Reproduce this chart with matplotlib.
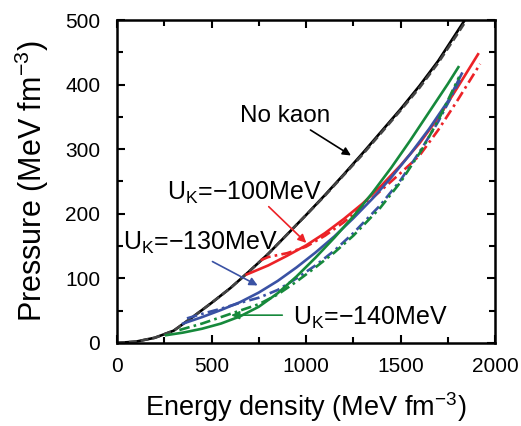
import matplotlib
matplotlib.use("Agg")
import matplotlib.pyplot as plt
from matplotlib.ticker import MultipleLocator

plt.rcParams['font.family'] = ['Liberation Sans', 'DejaVu Sans']
plt.rcParams['mathtext.fontset'] = 'custom'
plt.rcParams['mathtext.rm'] = 'Liberation Sans'

RED, BLUE, GREEN = '#ec2227', '#3a52a4', '#16893b'

# No kaon
e_nk = [0, 100, 200, 300, 400, 500, 600, 700, 800, 900, 1000, 1100, 1200, 1300, 1400, 1500, 1600, 1700, 1800, 1840]
p_nk = [0, 2, 8, 19, 40, 62, 85, 111, 138, 168, 198, 229, 261, 294, 328, 362, 398, 437, 482, 500]
p_nk2 = [0, 2, 8, 19, 40, 62, 85, 111, 138, 168, 198, 228, 260, 292, 326, 360, 395, 434, 478, 496]

# U_K = -100 MeV
e_100s = [686, 800, 900, 1000, 1100, 1200, 1300, 1400, 1500, 1600, 1700, 1800, 1910]
p_100s = [106, 120, 135, 151, 170, 192, 216, 244, 275, 309, 349, 395, 447]
e_100d = [760, 800, 900, 1000, 1100, 1200, 1300, 1400, 1500, 1600, 1700, 1800, 1921]
p_100d = [128, 133, 139, 149, 166, 187, 211, 237, 263, 290, 330, 375, 432]

# U_K = -130 MeV
e_130s = [350, 450, 550, 650, 750, 850, 950, 1050, 1150, 1250, 1350, 1450, 1550, 1650, 1750, 1824]
p_130s = [30, 40, 51, 63, 78, 96, 117, 140, 165, 193, 223, 256, 292, 331, 374, 417]
e_130d = [370, 450, 550, 650, 750, 850, 950, 1050, 1150, 1250, 1392, 1500, 1612, 1700, 1815]
p_130d = [38, 45, 53, 62, 70, 82, 100, 120, 143, 170, 213, 252, 301, 343, 407]

# U_K = -140 MeV
e_140s = [260, 350, 450, 550, 650, 750, 850, 950, 1050, 1150, 1250, 1350, 1450, 1550, 1650, 1750, 1806]
p_140s = [12, 16, 22, 30, 41, 56, 77, 103, 132, 163, 196, 232, 271, 313, 357, 401, 427]
e_140d = [330, 450, 550, 650, 750, 850, 950, 1050, 1150, 1250, 1392, 1500, 1612, 1700, 1810]
p_140d = [20, 30, 40, 50, 60, 75, 95, 117, 140, 166, 209, 249, 299, 345, 412]

fig = plt.figure(figsize=(5.21, 4.26), dpi=100)
ax = fig.add_axes([0.2246, 0.195, 0.7256, 0.758])

lw = 1.9
dd = (0, (4, 1.6, 1, 1.6))
ax.plot(e_nk, p_nk, color='black', lw=lw)
ax.plot(e_nk, p_nk2, color='#444444', lw=lw, ls=(0, (3, 1.5)))
ax.plot(e_100s, p_100s, color=RED, lw=lw)
ax.plot(e_100d, p_100d, color=RED, lw=lw, ls=dd)
ax.plot(e_130s, p_130s, color=BLUE, lw=lw)
ax.plot(e_130d, p_130d, color=BLUE, lw=lw, ls=dd)
ax.plot(e_140s, p_140s, color=GREEN, lw=lw)
ax.plot(e_140d, p_140d, color=GREEN, lw=lw, ls=dd)

ax.set_xlim(0, 2000)
ax.set_ylim(0, 500)
ax.xaxis.set_major_locator(MultipleLocator(500))
ax.xaxis.set_minor_locator(MultipleLocator(250))
ax.yaxis.set_major_locator(MultipleLocator(100))
ax.yaxis.set_minor_locator(MultipleLocator(50))
ax.tick_params(which='both', direction='in', top=True, right=True, width=1.5, labelsize=15)
ax.tick_params(axis='x', pad=10)
ax.tick_params(axis='y', pad=12)
ax.tick_params(which='major', length=6)
ax.tick_params(which='minor', length=4)
for s in ax.spines.values():
    s.set_linewidth(1.8)

ax.set_xlabel('Energy density (MeV fm$^\\mathregular{-3}$)', fontsize=19.5, labelpad=10)
ax.set_ylabel('Pressure (MeV fm$^\\mathregular{-3}$)', fontsize=22, labelpad=10)

akw = dict(arrowstyle='-|>', lw=1.2, mutation_scale=12)
ax.text(651, 342, 'No kaon', fontsize=17.5, ha='left', va='baseline')
ax.annotate('', xy=(1250, 288), xytext=(1011, 332), arrowprops=dict(color='black', **akw))
ax.text(265, 221, 'U$_\\mathregular{K}$=\u2212100MeV', fontsize=18, ha='left', va='baseline')
ax.annotate('', xy=(1012, 152), xytext=(792, 214), arrowprops=dict(color=RED, **akw))
ax.text(32, 144, 'U$_\\mathregular{K}$=\u2212130MeV', fontsize=18, ha='left', va='baseline')
ax.annotate('', xy=(757, 87), xytext=(492, 128), arrowprops=dict(color=BLUE, **akw))
ax.text(931, 28, 'U$_\\mathregular{K}$=\u2212140MeV', fontsize=18, ha='left', va='baseline')
ax.annotate('', xy=(589, 43), xytext=(889, 43), arrowprops=dict(color=GREEN, **akw))

fig.savefig('out.png', dpi=100)
